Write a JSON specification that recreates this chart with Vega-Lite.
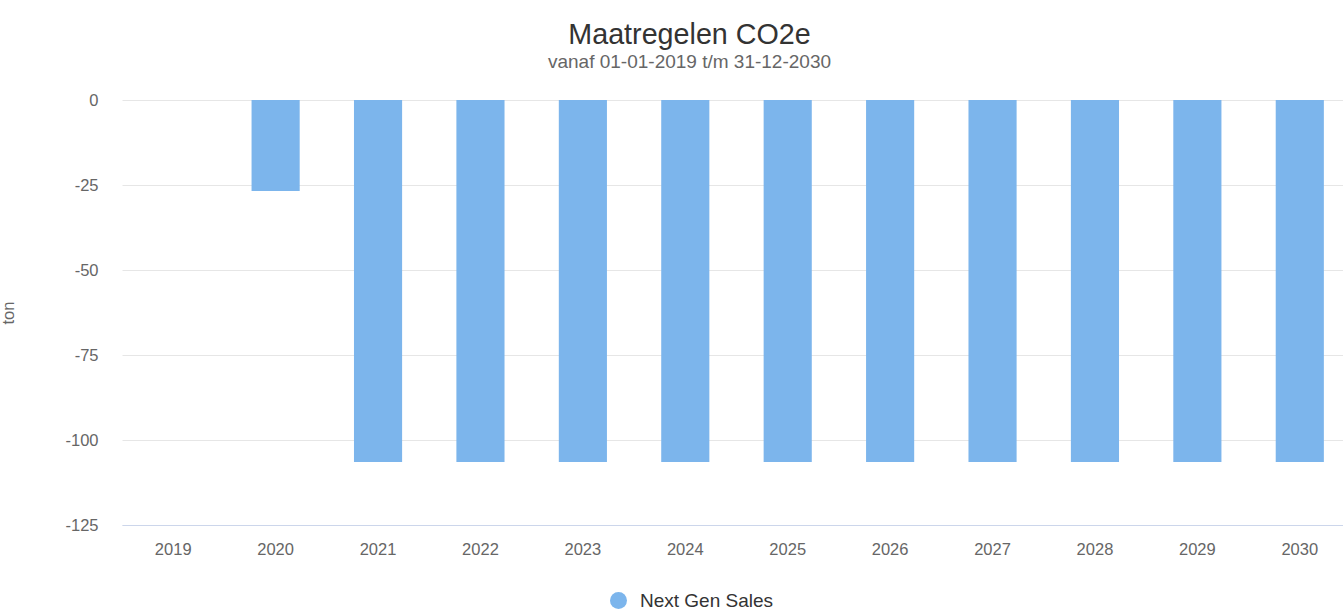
{
  "$schema": "https://vega.github.io/schema/vega-lite/v6.json",
  "autosize": {"type": "none"},
  "width": 1229,
  "height": 425,
  "padding": {"left": 122, "top": 100, "right": 0, "bottom": 85},
  "background": "white",
  "config": {
    "font": "Liberation Sans",
    "view": {"stroke": null},
    "axis": {"labelFont": "Liberation Sans", "titleFont": "Liberation Sans"}
  },
  "title": {
    "text": "Maatregelen CO2e",
    "subtitle": "vanaf 01-01-2019 t/m 31-12-2030",
    "anchor": "middle",
    "frame": "group",
    "dx": -47,
    "fontSize": 28.7,
    "fontWeight": "normal",
    "color": "#333333",
    "subtitleFontSize": 19,
    "subtitleColor": "#666666",
    "subtitlePadding": 3,
    "offset": 20
  },
  "data": {
    "values": [
      {"jaar": "2019", "serie": "Next Gen Sales", "waarde": 0},
      {"jaar": "2020", "serie": "Next Gen Sales", "waarde": -26.8},
      {"jaar": "2021", "serie": "Next Gen Sales", "waarde": -106.5},
      {"jaar": "2022", "serie": "Next Gen Sales", "waarde": -106.5},
      {"jaar": "2023", "serie": "Next Gen Sales", "waarde": -106.5},
      {"jaar": "2024", "serie": "Next Gen Sales", "waarde": -106.5},
      {"jaar": "2025", "serie": "Next Gen Sales", "waarde": -106.5},
      {"jaar": "2026", "serie": "Next Gen Sales", "waarde": -106.5},
      {"jaar": "2027", "serie": "Next Gen Sales", "waarde": -106.5},
      {"jaar": "2028", "serie": "Next Gen Sales", "waarde": -106.5},
      {"jaar": "2029", "serie": "Next Gen Sales", "waarde": -106.5},
      {"jaar": "2030", "serie": "Next Gen Sales", "waarde": -106.5}
    ]
  },
  "mark": {"type": "bar"},
  "encoding": {
    "x": {
      "field": "jaar",
      "type": "ordinal",
      "scale": {"paddingInner": 0.53, "paddingOuter": 0.265},
      "axis": {
        "title": null,
        "labelAngle": 0,
        "labelFontSize": 16.5,
        "labelColor": "#666666",
        "labelPadding": 16,
        "ticks": false,
        "domainColor": "#ccd6eb",
        "domainWidth": 1,
        "grid": false
      }
    },
    "y": {
      "field": "waarde",
      "type": "quantitative",
      "scale": {"domain": [-125, 0], "nice": false},
      "axis": {
        "title": "ton",
        "titleFontSize": 16.5,
        "titleFontWeight": "normal",
        "titleColor": "#666666",
        "titleX": -106,
        "values": [0, -25, -50, -75, -100, -125],
        "labelExpr": "'' + datum.value",
        "labelFontSize": 16.5,
        "labelColor": "#666666",
        "labelPadding": 24,
        "ticks": false,
        "domain": false,
        "grid": true,
        "gridColor": "#e6e6e6",
        "gridWidth": 1
      }
    },
    "color": {
      "field": "serie",
      "type": "nominal",
      "scale": {"range": ["#7cb5ec"]},
      "legend": {
        "title": null,
        "orient": "none",
        "legendX": 487,
        "legendY": 491,
        "direction": "horizontal",
        "symbolType": "circle",
        "symbolSize": 289,
        "symbolStrokeWidth": 0,
        "symbolOpacity": 1,
        "labelFontSize": 19,
        "labelColor": "#333333",
        "labelOffset": 12,
        "padding": 0
      }
    }
  }
}
